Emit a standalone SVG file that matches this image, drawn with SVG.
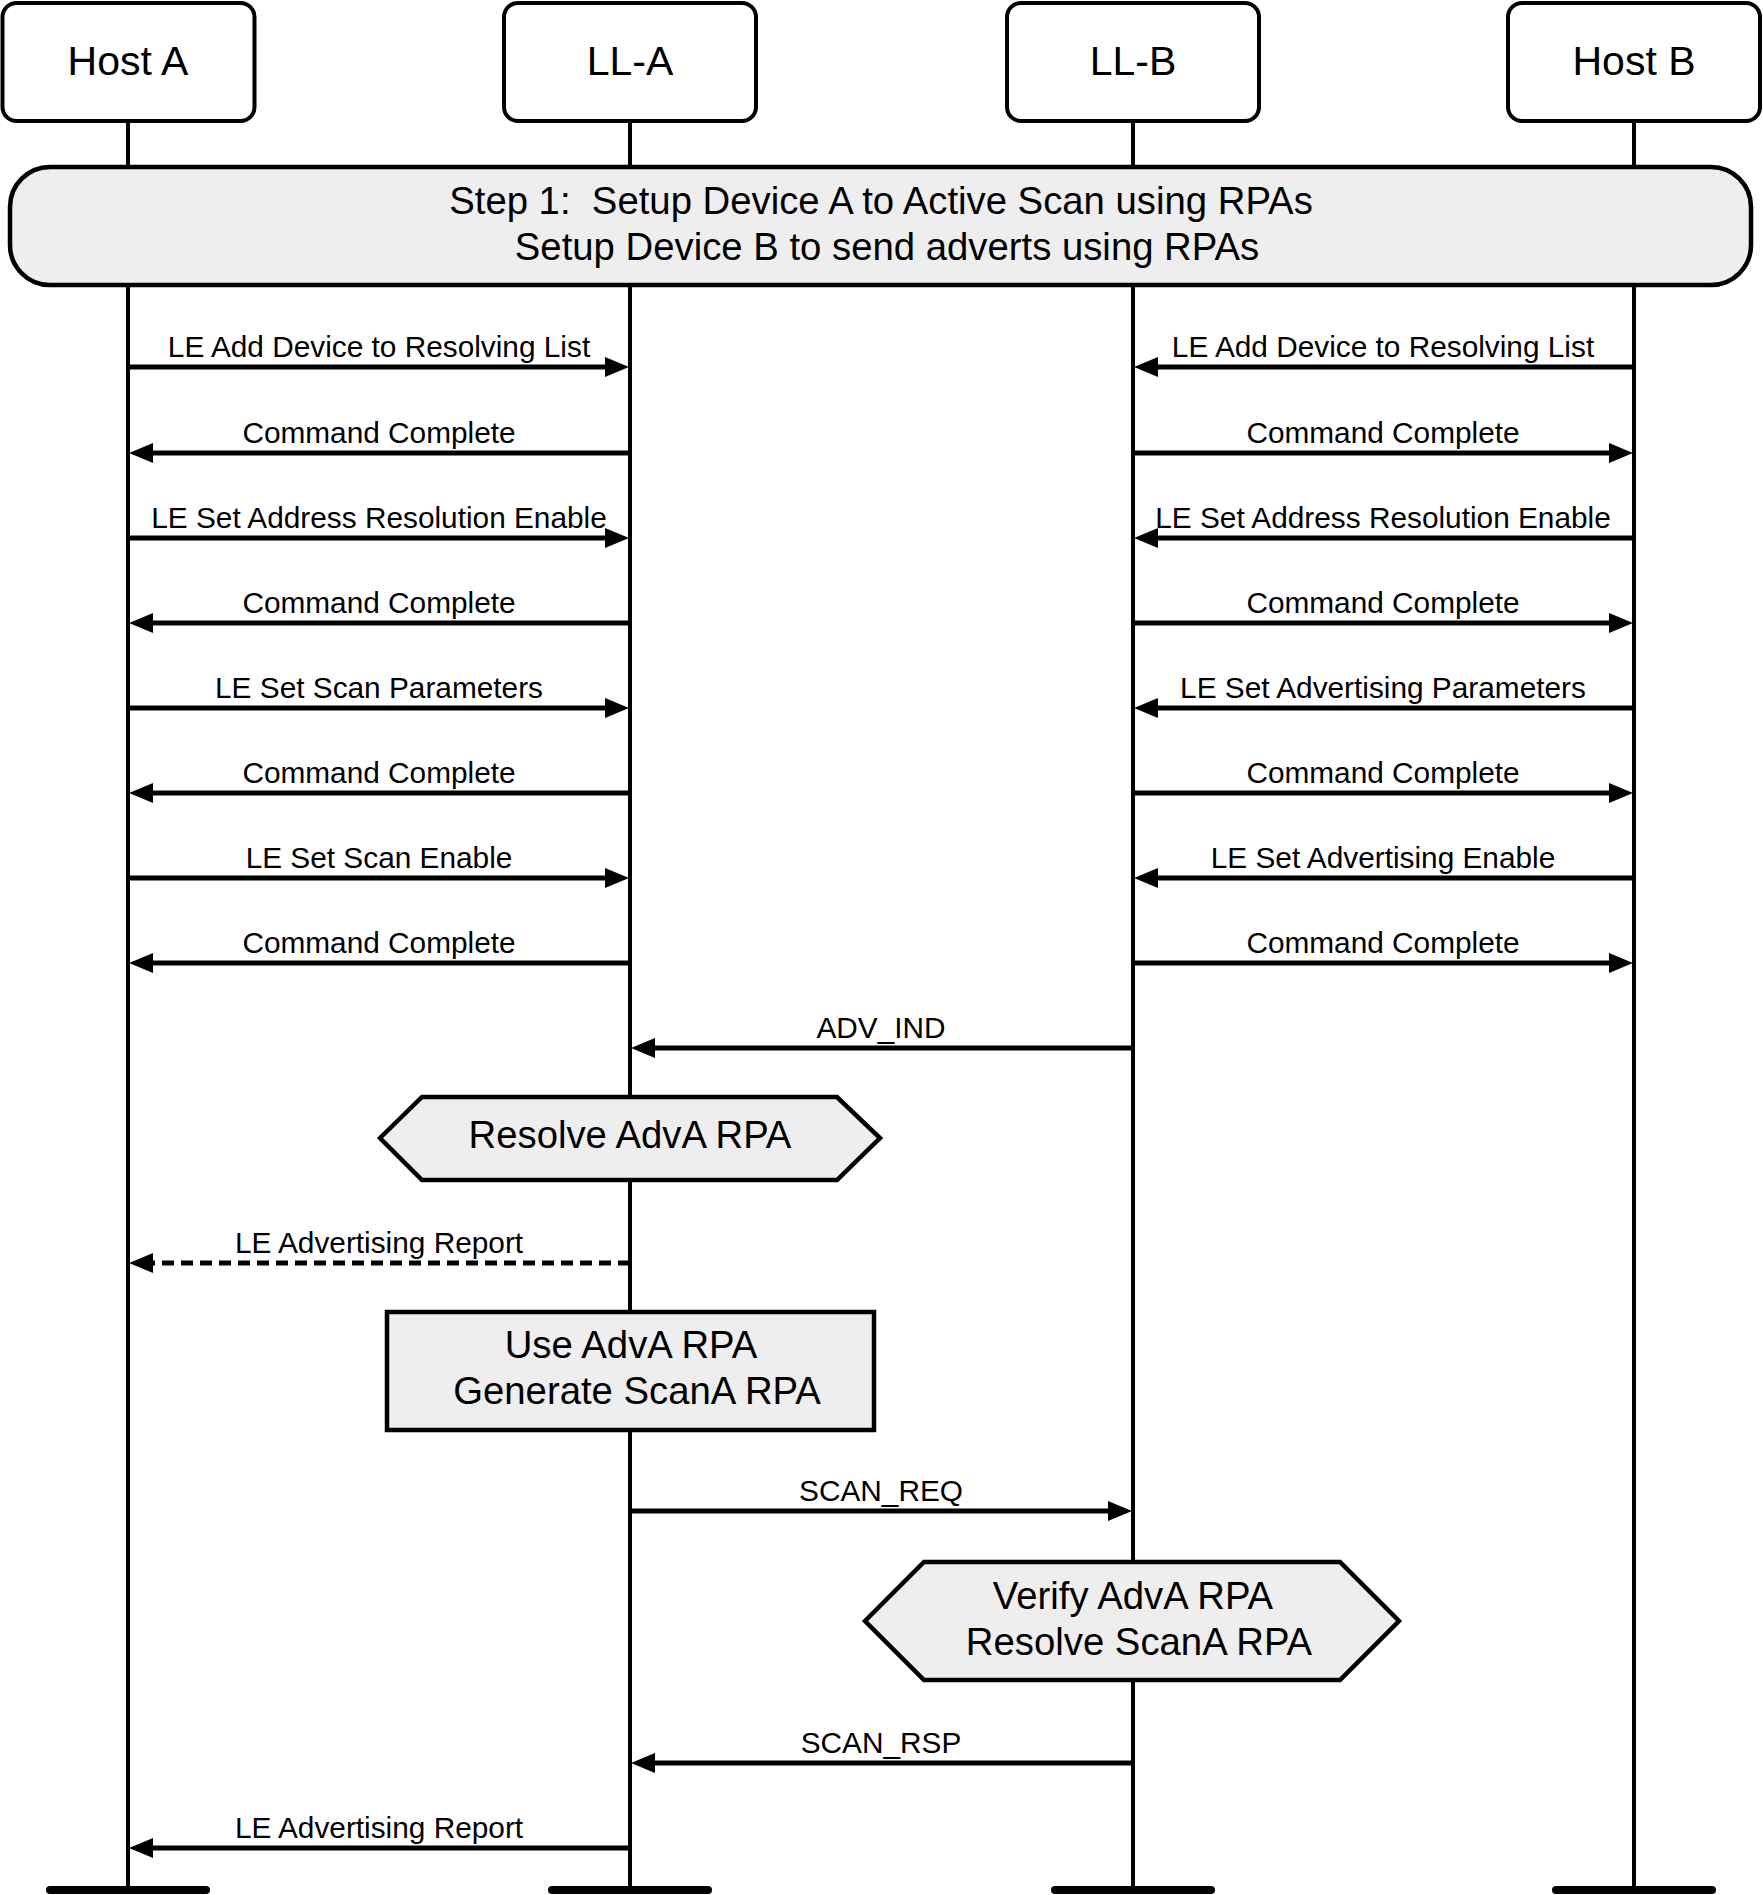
<svg xmlns="http://www.w3.org/2000/svg" width="1763" height="1895" viewBox="0 0 1763 1895">
<style>
text{font-family:"Liberation Sans",Arial,sans-serif;fill:#000;text-anchor:middle}
.node{fill:#fff;stroke:#000;stroke-width:4}
.title{font-size:41px}
.big{font-size:38.3px}
.lbl{font-size:29.8px}
.life{stroke:#000;stroke-width:4;fill:none}
.bar{stroke:#000;stroke-width:8;stroke-linecap:round}
.msg{stroke:#000;stroke-width:5;fill:none;marker-end:url(#ah)}
.dash{stroke-dasharray:12 7}
.box{fill:#eeeeee;stroke:#000;stroke-width:4.5}
</style>
<defs>
<marker id="ah" markerUnits="userSpaceOnUse" markerWidth="24" markerHeight="20" refX="12" refY="10" orient="auto" viewBox="0 0 24 20">
<path d="M0,0 L24,10 L0,20 z" fill="#000"/>
</marker>
</defs>
<rect width="1763" height="1895" fill="#fff"/>
<g id="lifelines">
<line class="life" x1="128" y1="121" x2="128" y2="1890"/>
<line class="life" x1="630" y1="121" x2="630" y2="1890"/>
<line class="life" x1="1133" y1="121" x2="1133" y2="1890"/>
<line class="life" x1="1634" y1="121" x2="1634" y2="1890"/>
<line class="bar" x1="50" y1="1890" x2="206" y2="1890"/>
<line class="bar" x1="552" y1="1890" x2="708" y2="1890"/>
<line class="bar" x1="1055" y1="1890" x2="1211" y2="1890"/>
<line class="bar" x1="1556" y1="1890" x2="1712" y2="1890"/>
</g>
<g id="host-a"><rect class="node" x="2.5" y="3" width="252" height="118" rx="14"/><text class="title" x="128" y="75">Host A</text></g>
<g id="ll-a"><rect class="node" x="504" y="3" width="252" height="118" rx="14"/><text class="title" x="630" y="75">LL-A</text></g>
<g id="ll-b"><rect class="node" x="1007" y="3" width="252" height="118" rx="14"/><text class="title" x="1133" y="75">LL-B</text></g>
<g id="host-b"><rect class="node" x="1508" y="3" width="252" height="118" rx="14"/><text class="title" x="1634" y="75">Host B</text></g>
<g id="step1">
<rect class="box" x="10" y="167" width="1741" height="118" rx="40"/>
<text class="big" x="881" y="214" xml:space="preserve">Step 1:  Setup Device A to Active Scan using RPAs</text>
<text class="big" x="887" y="260">Setup Device B to send adverts using RPAs</text>
</g>
<g id="resolve-adva">
<polygon class="box" points="380,1138 422,1097 837,1097 880,1138 837,1180 422,1180"/>
<text class="big" x="630" y="1148">Resolve AdvA RPA</text>
</g>
<g id="use-adva">
<rect class="box" x="387" y="1312" width="487" height="118"/>
<text class="big" x="631" y="1358">Use AdvA RPA</text>
<text class="big" x="637" y="1404">Generate ScanA RPA</text>
</g>
<g id="verify-adva">
<polygon class="box" points="865,1621 924,1562 1340,1562 1399,1621 1340,1680 924,1680"/>
<text class="big" x="1133" y="1609">Verify AdvA RPA</text>
<text class="big" x="1139" y="1655">Resolve ScanA RPA</text>
</g>
<g id="connectors">
<line class="msg" x1="128" y1="367" x2="617" y2="367"/>
<line class="msg" x1="630" y1="453" x2="141" y2="453"/>
<line class="msg" x1="128" y1="538" x2="617" y2="538"/>
<line class="msg" x1="630" y1="623" x2="141" y2="623"/>
<line class="msg" x1="128" y1="708" x2="617" y2="708"/>
<line class="msg" x1="630" y1="793" x2="141" y2="793"/>
<line class="msg" x1="128" y1="878" x2="617" y2="878"/>
<line class="msg" x1="630" y1="963" x2="141" y2="963"/>
<line class="msg" x1="1634" y1="367" x2="1146" y2="367"/>
<line class="msg" x1="1133" y1="453" x2="1621" y2="453"/>
<line class="msg" x1="1634" y1="538" x2="1146" y2="538"/>
<line class="msg" x1="1133" y1="623" x2="1621" y2="623"/>
<line class="msg" x1="1634" y1="708" x2="1146" y2="708"/>
<line class="msg" x1="1133" y1="793" x2="1621" y2="793"/>
<line class="msg" x1="1634" y1="878" x2="1146" y2="878"/>
<line class="msg" x1="1133" y1="963" x2="1621" y2="963"/>
<line class="msg" x1="1133" y1="1048" x2="643" y2="1048"/>
<line class="msg dash" x1="630" y1="1263" x2="141" y2="1263"/>
<line class="msg" x1="630" y1="1511" x2="1120" y2="1511"/>
<line class="msg" x1="1133" y1="1763" x2="643" y2="1763"/>
<line class="msg" x1="630" y1="1848" x2="141" y2="1848"/>
<text class="lbl" x="379" y="357">LE Add Device to Resolving List</text>
<text class="lbl" x="379" y="443">Command Complete</text>
<text class="lbl" x="379" y="528">LE Set Address Resolution Enable</text>
<text class="lbl" x="379" y="613">Command Complete</text>
<text class="lbl" x="379" y="698">LE Set Scan Parameters</text>
<text class="lbl" x="379" y="783">Command Complete</text>
<text class="lbl" x="379" y="868">LE Set Scan Enable</text>
<text class="lbl" x="379" y="953">Command Complete</text>
<text class="lbl" x="1383" y="357">LE Add Device to Resolving List</text>
<text class="lbl" x="1383" y="443">Command Complete</text>
<text class="lbl" x="1383" y="528">LE Set Address Resolution Enable</text>
<text class="lbl" x="1383" y="613">Command Complete</text>
<text class="lbl" x="1383" y="698">LE Set Advertising Parameters</text>
<text class="lbl" x="1383" y="783">Command Complete</text>
<text class="lbl" x="1383" y="868">LE Set Advertising Enable</text>
<text class="lbl" x="1383" y="953">Command Complete</text>
<text class="lbl" x="881" y="1038">ADV_IND</text>
<text class="lbl" x="379" y="1253">LE Advertising Report</text>
<text class="lbl" x="881" y="1501">SCAN_REQ</text>
<text class="lbl" x="881" y="1753">SCAN_RSP</text>
<text class="lbl" x="379" y="1838">LE Advertising Report</text>
</g>
</svg>
